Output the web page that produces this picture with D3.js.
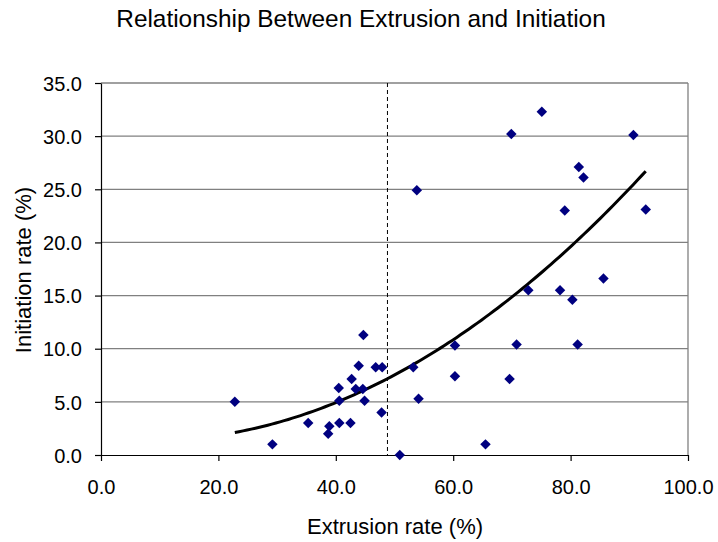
<!DOCTYPE html>
<html>
<head>
<meta charset="utf-8">
<script src="https://cdn.jsdelivr.net/npm/d3@7"></script>
<style>
  body { margin: 0; background: #fff; }
  text { font-family: "Liberation Sans", Arial, sans-serif; fill: #000; }
</style>
</head>
<body>
<svg id="chart" width="718" height="542"></svg>
<script>
//          Chart data
var extrusion = [22.8, 29.2, 35.3, 38.9, 38.7, 40.6, 42.5, 40.5, 40.6, 42.7,
                 43.4, 44.6, 43.9, 44.7, 44.9, 46.8, 47.9, 47.8, 50.9, 53.2,
                 54.1, 53.8, 60.3, 60.3, 65.5, 69.6, 69.9, 70.8, 72.8, 75.1,
                 78.2, 79.0, 80.3, 81.2, 81.4, 82.2, 85.6, 90.7, 92.8];
var initiation = [5.0, 1.0, 3.0, 2.7, 2.0, 3.0, 3.0, 6.3, 5.1, 7.15,
                  6.2, 6.2, 8.4, 11.3, 5.1, 8.25, 8.25, 4.0, 0.0, 8.25,
                  5.3, 24.9, 10.3, 7.4, 1.0, 7.15, 30.2, 10.4, 15.5, 32.3,
                  15.5, 23.0, 14.6, 10.4, 27.1, 26.1, 16.6, 30.1, 23.1];
var xTicks = [0, 20, 40, 60, 80, 100];
var yTicks = [0, 5, 10, 15, 20, 25, 30, 35];
var thresholdX = 48.8;

//          Chart settings
var plotLeft = 101, plotRight = 688, plotTop = 83, plotBottom = 455;

var svg = d3.select("#chart");

var x = d3.scaleLinear().domain([0, 100]).range([plotLeft, plotRight]);
var y = d3.scaleLinear().domain([0, 35]).range([plotBottom, plotTop]);

//          Grid lines
svg.selectAll("line.grid").data(yTicks.slice(1)).enter().append("line")
    .attr("class", "grid")
    .attr("x1", plotLeft).attr("x2", plotRight)
    .attr("y1", function(d) { return y(d); })
    .attr("y2", function(d) { return y(d); })
    .style("stroke", "#808080")
    .style("stroke-width", 1.3);

// right border
svg.append("line")
    .attr("x1", plotRight).attr("x2", plotRight).attr("y1", plotTop).attr("y2", plotBottom)
    .style("stroke", "#808080").style("stroke-width", 1.3);

//          Axes
var yAxis = svg.append("g")
    .attr("transform", "translate(" + plotLeft + ",0)")
    .call(d3.axisLeft(y).tickValues(yTicks).tickSize(6).tickSizeOuter(0)
        .tickFormat(d3.format(".1f")));
var xAxis = svg.append("g")
    .attr("transform", "translate(0," + plotBottom + ")")
    .call(d3.axisBottom(x).tickValues(xTicks).tickSize(6).tickSizeOuter(0)
        .tickFormat(d3.format(".1f")));

[xAxis, yAxis].forEach(function(a) {
    a.selectAll("path, line").style("stroke", "#000").style("stroke-width", 1.2);
    a.selectAll("text").style("font-family", "Liberation Sans, Arial, sans-serif")
        .style("font-size", "20px").style("fill", "#000");
});
yAxis.selectAll("text").attr("x", -19).attr("dy", "0.36em");
xAxis.selectAll("text").attr("y", 25).attr("dy", "0.71em");

//          Dashed threshold line
svg.append("line")
    .attr("x1", x(thresholdX)).attr("x2", x(thresholdX))
    .attr("y1", plotTop).attr("y2", plotBottom)
    .style("stroke", "#000").style("stroke-width", 1)
    .style("stroke-dasharray", "4,3");

//          Quadratic trend line (least squares fit of the points)
function polyFit(xs, ys) {
    var n = xs.length, s = [0, 0, 0, 0, 0], t = [0, 0, 0];
    for (var i = 0; i < n; i++) {
        var p = 1;
        for (var k = 0; k < 5; k++) { s[k] += p; if (k < 3) t[k] += p * ys[i]; p *= xs[i]; }
    }
    var m = [[s[0], s[1], s[2], t[0]], [s[1], s[2], s[3], t[1]], [s[2], s[3], s[4], t[2]]];
    for (var c = 0; c < 3; c++) {
        for (var r = c + 1; r < 3; r++) {
            var f = m[r][c] / m[c][c];
            for (var j = c; j < 4; j++) m[r][j] -= f * m[c][j];
        }
    }
    var co = [0, 0, 0];
    for (var r2 = 2; r2 >= 0; r2--) {
        var v = m[r2][3];
        for (var j2 = r2 + 1; j2 < 3; j2++) v -= m[r2][j2] * co[j2];
        co[r2] = v / m[r2][r2];
    }
    return co;
}
var co = polyFit(extrusion, initiation);
var xMin = d3.min(extrusion), xMax = d3.max(extrusion);
var trend = d3.range(0, 101).map(function(i) {
    var xv = xMin + (xMax - xMin) * i / 100;
    return [xv, co[0] + co[1] * xv + co[2] * xv * xv];
});
svg.append("path")
    .datum(trend)
    .attr("d", d3.line().x(function(d) { return x(d[0]); }).y(function(d) { return y(d[1]); }))
    .style("fill", "none").style("stroke", "#000").style("stroke-width", 3);

//          Points
svg.selectAll("path.pt").data(extrusion).enter().append("path")
    .attr("class", "pt")
    .attr("d", d3.symbol().type(d3.symbolDiamond2).size(70))
    .attr("transform", function(d, i) {
        return "translate(" + x(d) + "," + y(initiation[i]) + ")";
    })
    .style("fill", "#000080");

//          Titles
svg.append("text")
    .attr("x", 361).attr("y", 27)
    .attr("text-anchor", "middle")
    .style("font-size", "24.4px")
    .text("Relationship Between Extrusion and Initiation");

svg.append("text")
    .attr("x", 395).attr("y", 534)
    .attr("text-anchor", "middle")
    .style("font-size", "22px")
    .text("Extrusion rate (%)");

svg.append("text")
    .attr("transform", "translate(31,270) rotate(-90)")
    .attr("text-anchor", "middle")
    .style("font-size", "22px")
    .text("Initiation rate (%)");
</script>
</body>
</html>
